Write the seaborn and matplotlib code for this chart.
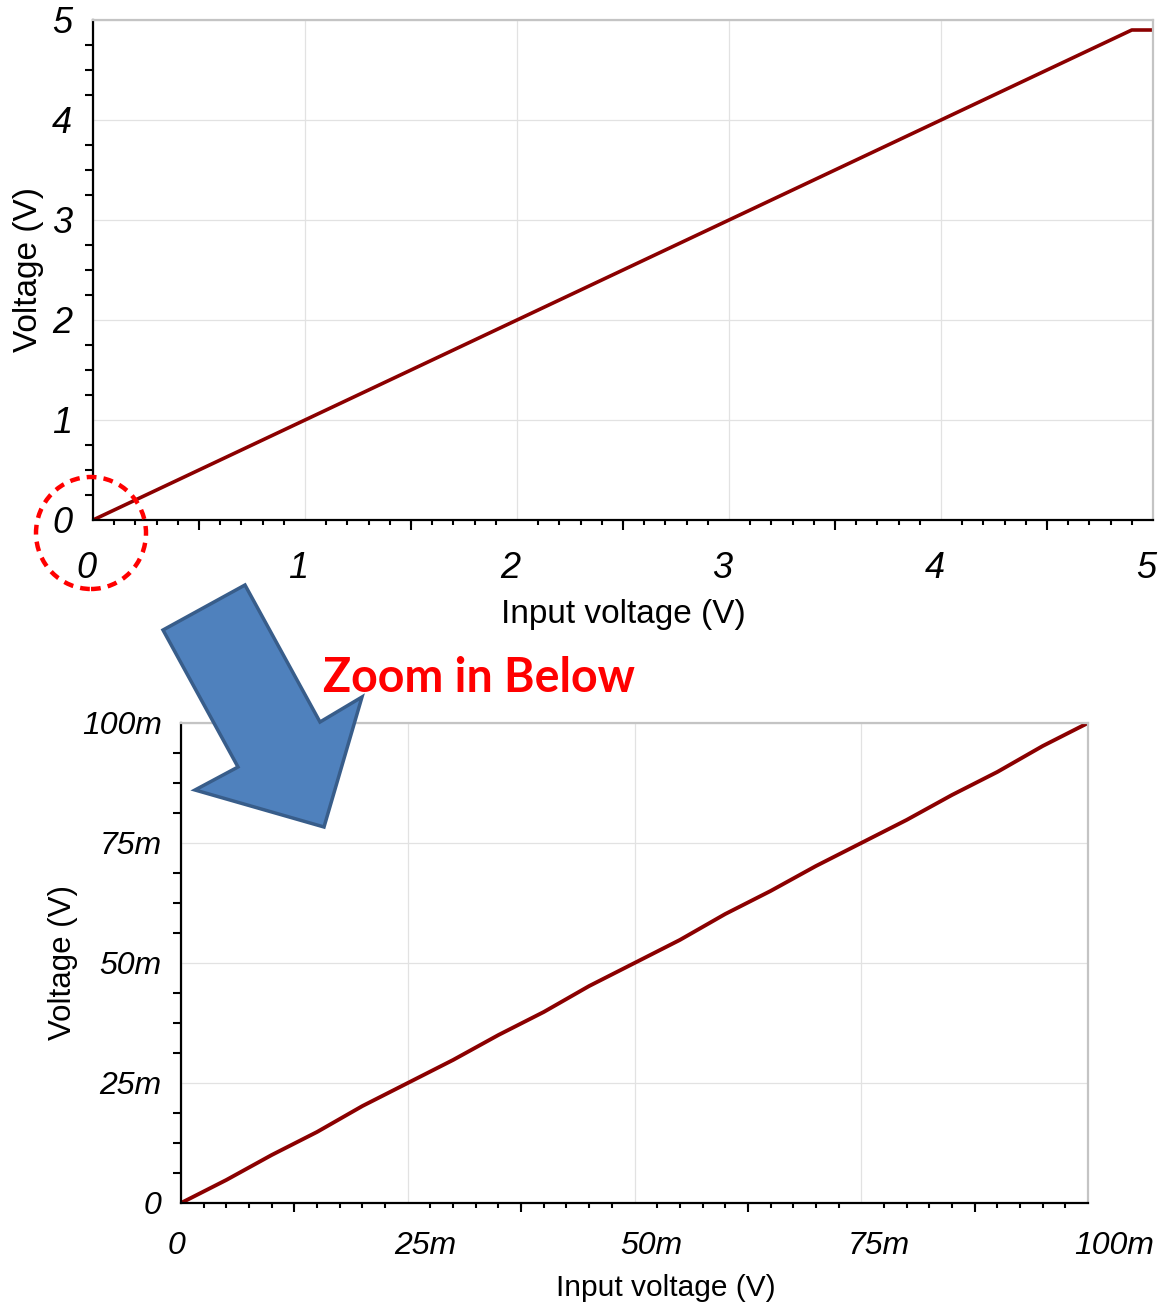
import matplotlib
matplotlib.use("Agg")
import matplotlib.pyplot as plt
import matplotlib.patches as mpatches
from matplotlib.ticker import MultipleLocator
import seaborn as sns
import pandas as pd

# ── data ────────────────────────────────────────────────
full_vin = [0.0, 4.9, 5.0]
full_vout = [0.0, 4.9, 4.9]
full_ticks = [0, 1, 2, 3, 4, 5]
full_ticklabels = ["0", "1", "2", "3", "4", "5"]

zoom_vin = [0.000, 0.005, 0.010, 0.015, 0.020, 0.025, 0.030, 0.035, 0.040, 0.045, 0.050,
            0.055, 0.060, 0.065, 0.070, 0.075, 0.080, 0.085, 0.090, 0.095, 0.100]
zoom_vout = [0.0000, 0.0048, 0.0100, 0.0148, 0.0202, 0.0250, 0.0298, 0.0350, 0.0398, 0.0452, 0.0500,
             0.0548, 0.0602, 0.0650, 0.0702, 0.0750, 0.0798, 0.0850, 0.0898, 0.0952, 0.1000]
zoom_ticks = [0, 0.025, 0.05, 0.075, 0.1]
zoom_ticklabels = ["0", "25m", "50m", "75m", "100m"]

LINE = "#8B0000"
GRID = "#e2e2e2"
FRAME = "#c4c4c4"

sns.set_style("white")
plt.rcParams["font.family"] = ["Liberation Sans", "DejaVu Sans"]
plt.rcParams["text.color"] = "black"
plt.rcParams["axes.labelcolor"] = "black"
plt.rcParams["xtick.color"] = "black"
plt.rcParams["ytick.color"] = "black"

W, H = 1162, 1304
fig = plt.figure(figsize=(W / 100, H / 100), dpi=100)


def px_axes(x0, y0, x1, y1):
    return fig.add_axes([x0 / W, 1 - y1 / H, (x1 - x0) / W, (y1 - y0) / H])


def style_axes(ax, ticks, labels, lim, major_len, minor_step, mid_ticks, fs,
               label_drop, label_shift):
    ax.set_xlim(*lim)
    ax.set_ylim(*lim)
    ax.set_xticks(ticks)
    ax.set_yticks(ticks)
    ax.set_yticklabels(labels, fontstyle="italic", fontsize=fs, color="black")
    ax.tick_params(axis="x", labelbottom=False)
    # x labels start a little left of their tick, like the source tool
    for v, lab in zip(ticks, labels):
        ax.annotate(lab, xy=(v, 0), xycoords=("data", "axes fraction"),
                    xytext=(-label_shift, -label_drop), textcoords="offset points",
                    ha="left", va="top", fontsize=fs, fontstyle="italic",
                    color="black", annotation_clip=False)
    ax.xaxis.set_minor_locator(MultipleLocator(minor_step))
    ax.yaxis.set_minor_locator(MultipleLocator((ticks[1] - ticks[0]) / 4))
    ax.tick_params(axis="x", which="major", direction="out", length=major_len,
                   width=1.6, color="black")
    ax.tick_params(axis="y", which="major", direction="out", length=major_len,
                   width=1.6, color="black", pad=2)
    ax.tick_params(axis="x", which="minor", direction="out", length=3.5, width=1.5,
                   bottom=True, color="black")
    ax.tick_params(axis="y", which="minor", direction="out", length=5.5, width=1.5,
                   left=True, color="black")
    ax.grid(True, which="major", color=GRID, linewidth=0.9)
    for s in ("left", "bottom"):
        ax.spines[s].set_color("black")
        ax.spines[s].set_linewidth(1.6)
    for s in ("top", "right"):
        ax.spines[s].set_color(FRAME)
        ax.spines[s].set_linewidth(1.6)
    # medium ticks half way between majors
    sec = ax.secondary_xaxis(0)
    sec.set_xticks(mid_ticks)
    sec.tick_params(axis="x", direction="out", length=major_len * 0.55, width=1.5,
                    labelbottom=False, color="black")
    sec.spines["bottom"].set_visible(False)


# ── top panel: full sweep ───────────────────────────────
ax1 = px_axes(93, 20, 1153, 520)
sns.lineplot(x=full_vin, y=full_vout, ax=ax1, color=LINE, linewidth=2.6)
style_axes(ax1, full_ticks, full_ticklabels, (0, 5), 13, 0.1,
           [0.5, 1.5, 2.5, 3.5, 4.5], 26, 22.5, 12)
ax1.set_xlabel("Input voltage (V)", fontsize=24)
ax1.xaxis.set_label_coords(0.5, -0.158)
ax1.set_ylabel("Voltage (V)", fontsize=24, labelpad=6)

# ── bottom panel: zoom near zero ────────────────────────
ax2 = px_axes(181, 723, 1088, 1203)
df = pd.DataFrame({"vin": zoom_vin, "vout": zoom_vout})
sns.lineplot(data=df, x="vin", y="vout", ax=ax2, color=LINE, linewidth=2.8)
style_axes(ax2, zoom_ticks, zoom_ticklabels, (0, 0.1), 12, 0.0025,
           [0.0125, 0.0375, 0.0625, 0.0875], 23, 20, 10)
ax2.set_xlabel("Input voltage (V)", fontsize=21.5)
ax2.xaxis.set_label_coords(0.534, -0.147)
ax2.set_ylabel("Voltage (V)", fontsize=22.5, labelpad=3)

# ── annotations ─────────────────────────────────────────
circle = mpatches.Ellipse((91 / W, 1 - 533 / H), 110 / W, 112 / H,
                          transform=fig.transFigure, fill=False, edgecolor="#ff0000",
                          linewidth=3.2, linestyle=(0, (2.2, 1.6)), zorder=10)
fig.add_artist(circle)

arrow_px = [(163, 630), (245, 585), (320, 722), (362, 697), (324, 827), (195, 790), (238, 767)]
arrow = mpatches.Polygon([(x / W, 1 - y / H) for x, y in arrow_px], closed=True,
                         transform=fig.transFigure, facecolor="#4F81BD",
                         edgecolor="#385D8A", linewidth=2.5, zorder=10)
fig.add_artist(arrow)

fig.text(323 / W, 1 - 678 / H, "Zoom in Below", color="#ff0000", fontsize=33.5,
         fontweight="bold", family=["Lato", "DejaVu Sans"], ha="left", va="center")

fig.savefig("out.png", dpi=100)
